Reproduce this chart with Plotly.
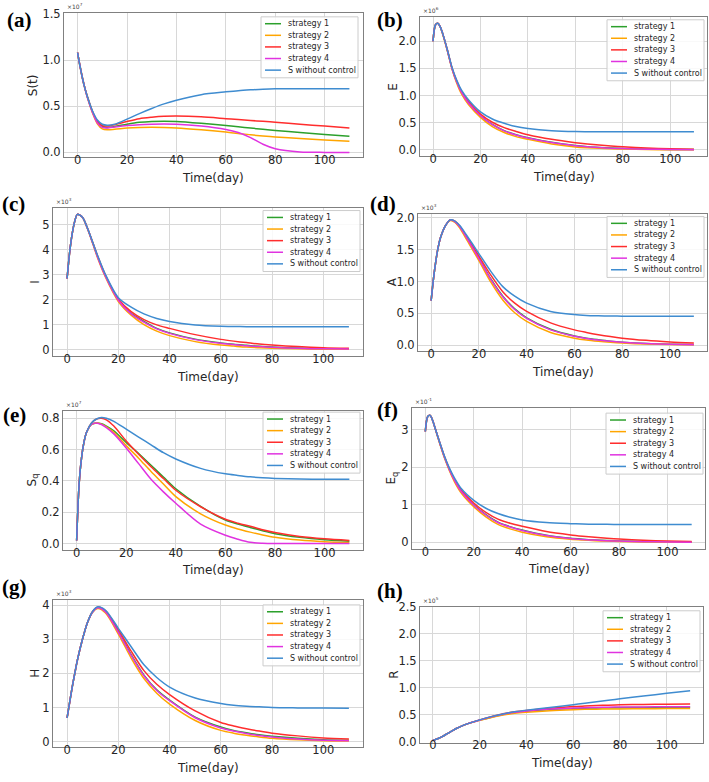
import plotly.graph_objects as go

# ---------------- data ----------------
T = [0, 1, 2, 3, 4, 6, 8, 10, 12, 15, 20, 25, 30, 35, 40, 50, 60, 65, 70, 75, 80, 90, 100, 110]

SERIES = ["strategy 1", "strategy 2", "strategy 3", "strategy 4", "S without control"]
COLORS = ["#2ca02c", "#ffa500", "#ff2d2d", "#e033e0", "#3f8cd0"]
X_TICKS = [0, 20, 40, 60, 80, 100]

# (a) S(t), x1e7
a_s1 = [1.08, 0.93, 0.80, 0.69, 0.60, 0.44, 0.33, 0.28, 0.27, 0.28, 0.305, 0.325, 0.335, 0.338, 0.335, 0.315, 0.29, 0.277, 0.263, 0.25, 0.237, 0.215, 0.193, 0.174]
a_s2 = [1.08, 0.93, 0.80, 0.69, 0.59, 0.43, 0.31, 0.255, 0.245, 0.25, 0.263, 0.27, 0.272, 0.27, 0.265, 0.245, 0.22, 0.205, 0.19, 0.178, 0.167, 0.15, 0.135, 0.12]
a_s3 = [1.08, 0.93, 0.80, 0.69, 0.60, 0.445, 0.34, 0.29, 0.285, 0.30, 0.335, 0.365, 0.38, 0.39, 0.393, 0.385, 0.365, 0.355, 0.345, 0.336, 0.326, 0.305, 0.285, 0.265]
a_s4 = [1.08, 0.93, 0.80, 0.69, 0.59, 0.435, 0.32, 0.27, 0.265, 0.275, 0.29, 0.30, 0.305, 0.307, 0.305, 0.285, 0.248, 0.215, 0.16, 0.088, 0.04, 0.005, 0.0, 0.0]
a_nc = [1.08, 0.93, 0.80, 0.69, 0.60, 0.45, 0.35, 0.305, 0.295, 0.305, 0.36, 0.42, 0.475, 0.525, 0.565, 0.625, 0.655, 0.668, 0.677, 0.684, 0.688, 0.69, 0.69, 0.69]

# (b) E
b_s1 = [2.0, 2.3, 2.33, 2.27, 2.15, 1.84, 1.5, 1.25, 1.06, 0.86, 0.63, 0.47, 0.355, 0.28, 0.225, 0.14, 0.08, 0.06, 0.046, 0.035, 0.027, 0.016, 0.01, 0.006]
b_s2 = [2.0, 2.3, 2.33, 2.27, 2.14, 1.83, 1.49, 1.23, 1.03, 0.83, 0.6, 0.43, 0.32, 0.245, 0.195, 0.11, 0.055, 0.04, 0.03, 0.022, 0.016, 0.008, 0.004, 0.002]
b_s3 = [2.0, 2.3, 2.33, 2.27, 2.15, 1.85, 1.51, 1.27, 1.08, 0.89, 0.66, 0.51, 0.41, 0.34, 0.28, 0.195, 0.134, 0.11, 0.09, 0.073, 0.06, 0.037, 0.022, 0.013]
b_s4 = [2.0, 2.3, 2.33, 2.27, 2.15, 1.84, 1.5, 1.25, 1.06, 0.86, 0.63, 0.465, 0.35, 0.275, 0.22, 0.135, 0.078, 0.058, 0.044, 0.033, 0.025, 0.014, 0.008, 0.005]
b_nc = [2.0, 2.3, 2.33, 2.27, 2.15, 1.85, 1.52, 1.28, 1.1, 0.92, 0.7, 0.57, 0.49, 0.43, 0.395, 0.355, 0.338, 0.336, 0.335, 0.335, 0.335, 0.335, 0.335, 0.335]

# (c) I
c_s1 = [2.85, 3.9, 4.65, 5.15, 5.42, 5.3, 4.85, 4.28, 3.7, 2.95, 2.0, 1.45, 1.13, 0.85, 0.67, 0.42, 0.27, 0.21, 0.17, 0.13, 0.1, 0.06, 0.035, 0.022]
c_s2 = [2.85, 3.9, 4.65, 5.15, 5.42, 5.3, 4.83, 4.25, 3.65, 2.9, 1.93, 1.38, 1.0, 0.74, 0.56, 0.32, 0.18, 0.14, 0.1, 0.075, 0.055, 0.03, 0.015, 0.01]
c_s3 = [2.85, 3.9, 4.65, 5.15, 5.42, 5.3, 4.85, 4.3, 3.73, 2.98, 2.03, 1.52, 1.2, 0.99, 0.85, 0.6, 0.41, 0.34, 0.28, 0.22, 0.18, 0.12, 0.075, 0.05]
c_s4 = [2.85, 3.9, 4.65, 5.15, 5.42, 5.3, 4.84, 4.27, 3.68, 2.93, 1.98, 1.43, 1.1, 0.83, 0.65, 0.4, 0.25, 0.2, 0.15, 0.12, 0.09, 0.05, 0.03, 0.02]
c_nc = [2.85, 3.9, 4.65, 5.15, 5.42, 5.3, 4.85, 4.3, 3.75, 3.0, 2.08, 1.7, 1.43, 1.25, 1.13, 0.99, 0.935, 0.925, 0.92, 0.915, 0.915, 0.915, 0.915, 0.915]

# (d) A
d_s1 = [0.7, 1.05, 1.33, 1.55, 1.7, 1.88, 1.97, 1.94, 1.86, 1.68, 1.37, 1.04, 0.77, 0.57, 0.43, 0.25, 0.145, 0.11, 0.085, 0.063, 0.047, 0.026, 0.015, 0.009]
d_s2 = [0.7, 1.05, 1.33, 1.55, 1.7, 1.88, 1.96, 1.93, 1.84, 1.65, 1.33, 0.99, 0.71, 0.51, 0.375, 0.2, 0.11, 0.08, 0.06, 0.044, 0.032, 0.017, 0.009, 0.005]
d_s3 = [0.7, 1.05, 1.33, 1.55, 1.7, 1.88, 1.97, 1.95, 1.87, 1.7, 1.4, 1.1, 0.84, 0.66, 0.53, 0.35, 0.24, 0.2, 0.165, 0.135, 0.11, 0.075, 0.05, 0.032]
d_s4 = [0.7, 1.05, 1.33, 1.55, 1.7, 1.88, 1.97, 1.94, 1.86, 1.68, 1.36, 1.03, 0.76, 0.56, 0.42, 0.24, 0.14, 0.105, 0.08, 0.06, 0.045, 0.025, 0.014, 0.008]
d_nc = [0.7, 1.05, 1.33, 1.55, 1.7, 1.88, 1.97, 1.95, 1.88, 1.72, 1.44, 1.16, 0.92, 0.77, 0.66, 0.53, 0.48, 0.468, 0.462, 0.458, 0.456, 0.455, 0.455, 0.455]

# (e) Sq
e_s1 = [0.02, 0.38, 0.55, 0.65, 0.71, 0.76, 0.77, 0.765, 0.75, 0.72, 0.645, 0.575, 0.5, 0.425, 0.35, 0.237, 0.15, 0.125, 0.103, 0.082, 0.063, 0.04, 0.025, 0.015]
e_s2 = [0.02, 0.38, 0.55, 0.65, 0.71, 0.76, 0.77, 0.762, 0.745, 0.71, 0.625, 0.545, 0.46, 0.38, 0.3, 0.19, 0.118, 0.093, 0.073, 0.055, 0.04, 0.022, 0.012, 0.006]
e_s3 = [0.02, 0.38, 0.55, 0.65, 0.71, 0.77, 0.795, 0.8, 0.79, 0.75, 0.655, 0.57, 0.49, 0.415, 0.34, 0.235, 0.155, 0.13, 0.11, 0.088, 0.07, 0.045, 0.03, 0.02]
e_s4 = [0.02, 0.38, 0.55, 0.65, 0.71, 0.76, 0.77, 0.76, 0.74, 0.7, 0.61, 0.51, 0.41, 0.33, 0.257, 0.124, 0.053, 0.028, 0.008, 0.002, 0.0, 0.0, 0.0, 0.0]
e_nc = [0.02, 0.38, 0.55, 0.65, 0.71, 0.77, 0.795, 0.805, 0.8, 0.78, 0.73, 0.68, 0.63, 0.58, 0.54, 0.48, 0.445, 0.435, 0.426, 0.42, 0.416, 0.412, 0.41, 0.41]

# (f) Eq
f_s1 = [2.95, 3.35, 3.38, 3.25, 3.05, 2.64, 2.25, 1.93, 1.66, 1.34, 1.0, 0.74, 0.54, 0.42, 0.33, 0.19, 0.11, 0.085, 0.065, 0.05, 0.038, 0.022, 0.013, 0.008]
f_s2 = [2.95, 3.35, 3.38, 3.25, 3.04, 2.62, 2.23, 1.9, 1.62, 1.3, 0.95, 0.68, 0.48, 0.36, 0.27, 0.15, 0.085, 0.064, 0.048, 0.036, 0.026, 0.014, 0.008, 0.004]
f_s3 = [2.95, 3.35, 3.38, 3.25, 3.05, 2.65, 2.27, 1.95, 1.69, 1.38, 1.05, 0.8, 0.62, 0.51, 0.43, 0.29, 0.2, 0.165, 0.135, 0.11, 0.09, 0.06, 0.038, 0.025]
f_s4 = [2.95, 3.35, 3.38, 3.25, 3.05, 2.64, 2.25, 1.93, 1.66, 1.34, 0.99, 0.73, 0.53, 0.41, 0.32, 0.185, 0.105, 0.08, 0.062, 0.047, 0.036, 0.02, 0.012, 0.007]
f_nc = [2.95, 3.35, 3.38, 3.25, 3.05, 2.65, 2.28, 1.97, 1.72, 1.42, 1.12, 0.91, 0.77, 0.67, 0.6, 0.53, 0.5, 0.49, 0.485, 0.482, 0.48, 0.48, 0.48, 0.48]

# (g) H
g_s1 = [0.7, 1.15, 1.6, 2.0, 2.38, 3.0, 3.5, 3.8, 3.92, 3.8, 3.22, 2.55, 1.95, 1.52, 1.22, 0.72, 0.43, 0.33, 0.26, 0.2, 0.16, 0.1, 0.06, 0.04]
g_s2 = [0.7, 1.15, 1.6, 2.0, 2.38, 3.0, 3.5, 3.8, 3.9, 3.77, 3.15, 2.45, 1.85, 1.42, 1.1, 0.62, 0.33, 0.25, 0.19, 0.14, 0.1, 0.055, 0.03, 0.02]
g_s3 = [0.7, 1.15, 1.6, 2.0, 2.38, 3.0, 3.5, 3.82, 3.94, 3.83, 3.28, 2.65, 2.08, 1.68, 1.38, 0.9, 0.56, 0.46, 0.38, 0.31, 0.25, 0.17, 0.11, 0.075]
g_s4 = [0.7, 1.15, 1.6, 2.0, 2.38, 3.0, 3.5, 3.8, 3.92, 3.8, 3.2, 2.53, 1.93, 1.5, 1.2, 0.7, 0.4, 0.31, 0.24, 0.18, 0.14, 0.08, 0.045, 0.03]
g_nc = [0.7, 1.15, 1.6, 2.0, 2.38, 3.0, 3.5, 3.82, 3.95, 3.85, 3.32, 2.78, 2.25, 1.88, 1.6, 1.28, 1.12, 1.07, 1.04, 1.02, 1.0, 0.99, 0.985, 0.98]

# (h) R
h_s1 = [0.03, 0.045, 0.06, 0.08, 0.1, 0.15, 0.2, 0.25, 0.29, 0.34, 0.405, 0.46, 0.51, 0.545, 0.57, 0.6, 0.618, 0.625, 0.63, 0.633, 0.635, 0.638, 0.64, 0.641]
h_s2 = [0.03, 0.045, 0.06, 0.08, 0.1, 0.15, 0.2, 0.25, 0.29, 0.34, 0.4, 0.455, 0.5, 0.53, 0.55, 0.58, 0.598, 0.604, 0.608, 0.611, 0.613, 0.616, 0.618, 0.619]
h_s3 = [0.03, 0.045, 0.06, 0.08, 0.1, 0.15, 0.2, 0.25, 0.29, 0.34, 0.41, 0.47, 0.525, 0.56, 0.585, 0.625, 0.655, 0.665, 0.675, 0.682, 0.688, 0.696, 0.7, 0.702]
h_s4 = [0.03, 0.045, 0.06, 0.08, 0.1, 0.15, 0.2, 0.25, 0.29, 0.34, 0.405, 0.465, 0.515, 0.55, 0.575, 0.61, 0.628, 0.635, 0.64, 0.644, 0.647, 0.65, 0.652, 0.653]
h_nc = [0.03, 0.045, 0.06, 0.08, 0.1, 0.15, 0.2, 0.25, 0.29, 0.34, 0.41, 0.47, 0.52, 0.56, 0.59, 0.64, 0.69, 0.718, 0.745, 0.772, 0.8, 0.85, 0.9, 0.95]

# ---------------- layout helpers ----------------
W, H = 709, 782
def px(x):
    return x / W
def py(y):
    return 1 - y / H

panels = [
    dict(data=[a_s1, a_s2, a_s3, a_s4, a_nc], frame=(64, 363, 6, 153), yr=[-0.055, 1.51],
         yt=[0.0, 0.5, 1.0, 1.5], fmt=".1f", ytitle="S(t)", ytx=33, exp="×10<sup>7</sup>", lab="(a)", labpos=(19, 13), leg=(358, 10)),
    dict(data=[b_s1, b_s2, b_s3, b_s4, b_nc], frame=(420, 707, 10, 152), yr=[-0.12, 2.45],
         yt=[0.0, 0.5, 1.0, 1.5, 2.0], fmt=".1f", ytitle="E", ytx=393, exp="×10<sup>6</sup>", lab="(b)", labpos=(390, 13), leg=(704, 13)),
    dict(data=[c_s1, c_s2, c_s3, c_s4, c_nc], frame=(53, 363, 204, 355), yr=[-0.26, 5.69],
         yt=[0, 1, 2, 3, 4, 5], fmt="d", ytitle="I", ytx=35, exp="×10<sup>3</sup>", lab="(c)", labpos=(13, 200), leg=(360, 207)),
    dict(data=[d_s1, d_s2, d_s3, d_s4, d_nc], frame=(418, 707, 210, 350), yr=[-0.095, 2.07],
         yt=[0.0, 0.5, 1.0, 1.5, 2.0], fmt=".1f", ytitle="A", ytx=392, exp="×10<sup>3</sup>", lab="(d)", labpos=(383, 200), leg=(704, 213)),
    dict(data=[e_s1, e_s2, e_s3, e_s4, e_nc], frame=(63, 363, 411, 552), yr=[-0.04, 0.845],
         yt=[0.0, 0.2, 0.4, 0.6, 0.8], fmt=".1f", ytitle="S<sub>q</sub>", ytx=33, exp="×10<sup>7</sup>", lab="(e)", labpos=(15, 415), leg=(360, 412)),
    dict(data=[f_s1, f_s2, f_s3, f_s4, f_nc], frame=(412, 705, 408, 551), yr=[-0.17, 3.57],
         yt=[0, 1, 2, 3], fmt="d", ytitle="E<sub>q</sub>", ytx=392, exp="×10<sup>-1</sup>", lab="(f)", labpos=(387, 410), leg=(703, 413)),
    dict(data=[g_s1, g_s2, g_s3, g_s4, g_nc], frame=(53, 363, 603, 753), yr=[-0.17, 4.15],
         yt=[0, 1, 2, 3, 4], fmt="d", ytitle="H", ytx=35, exp="×10<sup>3</sup>", lab="(g)", labpos=(14, 590), leg=(360, 608)),
    dict(data=[h_s1, h_s2, h_s3, h_s4, h_nc], frame=(420, 703, 610, 748), yr=[-0.01, 2.5],
         yt=[0.0, 0.5, 1.0, 1.5, 2.0, 2.5], fmt=".1f", ytitle="R", ytx=394, exp="×10<sup>5</sup>", lab="(h)", labpos=(390, 594), leg=(700, 614)),
]

fig = go.Figure()
layout = dict(width=W, height=H, margin=dict(l=0, r=0, t=0, b=0),
              paper_bgcolor="white", plot_bgcolor="white", showlegend=False,
              font=dict(family="DejaVu Sans", color="#262626"))
shapes, annotations = [], []

TICK_FONT = dict(size=11.5, color="#262626")
AXIS_COMMON = dict(showline=True, mirror=True, linecolor="#808080", linewidth=1,
                   showgrid=True, gridcolor="#d8d8d8", gridwidth=1, zeroline=False,
                   ticks="", tickfont=TICK_FONT)
TITLE_FONT = dict(size=12, color="#262626")

LEG_W, LEG_H, LEG_STEP = 97, 62, 11.8

for i, p in enumerate(panels):
    n = "" if i == 0 else str(i + 1)
    x0, x1, y0, y1 = p["frame"]
    # traces: strategies first, uncontrolled curve on top
    for k in range(5):
        fig.add_trace(go.Scatter(x=T, y=p["data"][k], mode="lines", name=SERIES[k],
                                 line=dict(color=COLORS[k], width=1.5, shape="spline", smoothing=0.8),
                                 xaxis="x" + n, yaxis="y" + n, showlegend=False))
    layout["xaxis" + n] = dict(AXIS_COMMON, domain=[px(x0), px(x1)], anchor="y" + n,
                               range=[-5.5, 115.5], tickvals=X_TICKS, ticklabelstandoff=-8)
    layout["yaxis" + n] = dict(AXIS_COMMON, domain=[py(y1), py(y0)], anchor="x" + n,
                               range=p["yr"], tickvals=p["yt"], tickformat=p["fmt"])
    # axis titles
    annotations.append(dict(xref="paper", yref="paper", x=px((x0 + x1) / 2), y=py(y1 + 21),
                            xanchor="center", yanchor="middle", showarrow=False,
                            text="Time(day)", font=TITLE_FONT))
    annotations.append(dict(xref="paper", yref="paper", x=px(p["ytx"]), y=py((y0 + y1) / 2),
                            xanchor="center", yanchor="middle", showarrow=False, textangle=-90,
                            text=p["ytitle"], font=TITLE_FONT))
    # offset (scale) text
    annotations.append(dict(xref="paper", yref="paper", x=px(x0 + 1), y=py(y0 - 1),
                            xanchor="left", yanchor="bottom", showarrow=False,
                            text=p["exp"], font=dict(size=6, color="#444")))
    # panel label
    lx, ly = p["labpos"]
    annotations.append(dict(xref="paper", yref="paper", x=px(lx), y=py(ly),
                            xanchor="center", yanchor="middle", showarrow=False,
                            text="<b>" + p["lab"] + "</b>",
                            font=dict(family="Liberation Serif", size=21, color="black")))
    # legend box
    lr, lt = p["leg"]
    ll = lr - LEG_W
    shapes.append(dict(type="rect", xref="paper", yref="paper", x0=px(ll), x1=px(lr),
                       y0=py(lt + LEG_H), y1=py(lt), fillcolor="rgba(255,255,255,0.85)",
                       line=dict(color="#cccccc", width=1), layer="above"))
    for k in range(5):
        yy = lt + 7 + k * LEG_STEP
        shapes.append(dict(type="line", xref="paper", yref="paper", x0=px(ll + 4), x1=px(ll + 20),
                           y0=py(yy), y1=py(yy), line=dict(color=COLORS[k], width=1.5), layer="above"))
        annotations.append(dict(xref="paper", yref="paper", x=px(ll + 25), y=py(yy),
                                xanchor="left", yanchor="middle", showarrow=False,
                                text=SERIES[k], font=dict(size=8, color="#262626")))

layout["shapes"] = shapes
layout["annotations"] = annotations
fig.update_layout(**layout)

PIN = ("document.documentElement.style.margin='0';document.body.style.margin='0';"
       "var d=document.getElementById('{plot_id}');d.style.position='fixed';"
       "d.style.left='0px';d.style.top='0px';")
fig.write_html("out.html", post_script=PIN, config={"displayModeBar": False})
